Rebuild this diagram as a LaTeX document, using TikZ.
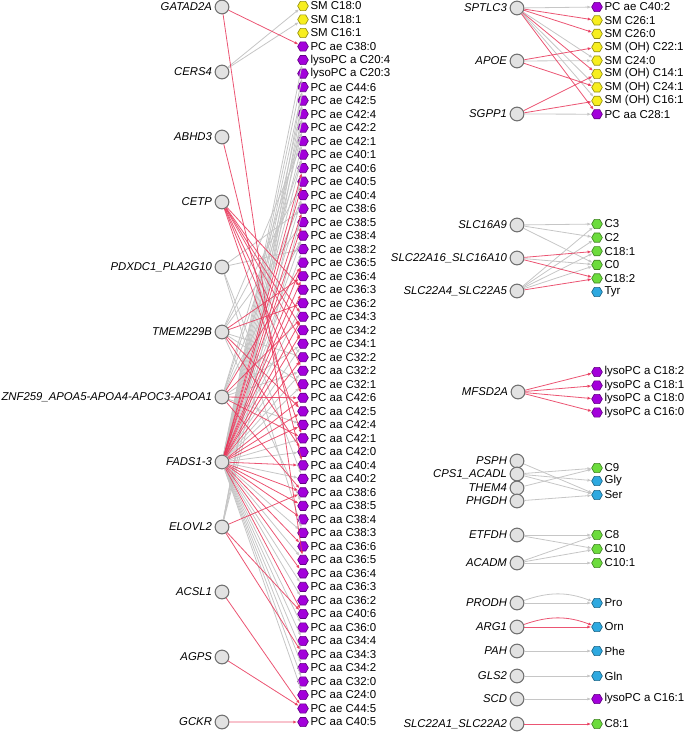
\documentclass[tikz,border=0pt]{standalone}
\usepackage{fontspec}
\setmainfont{Liberation Sans}
\usetikzlibrary{shapes.geometric,arrows.meta}

\definecolor{edgered}{HTML}{E8375A}
\definecolor{edgegray}{HTML}{C6C6C6}
\definecolor{genefill}{HTML}{E2E2E2}
\definecolor{geneline}{HTML}{707070}
\definecolor{metyellow}{HTML}{F7EE1E}
\definecolor{metpurple}{HTML}{A300DB}
\definecolor{metgreen}{HTML}{6CDC3C}
\definecolor{metblue}{HTML}{2EA9E0}

\tikzset{
  gene/.style={circle, draw=geneline, fill=genefill, line width=0.8pt, minimum size=10.3pt, inner sep=0pt},
  glab/.style={font=\fontsize{8.5}{9.5}\selectfont\itshape, inner sep=1.8pt},
  met/.style={regular polygon, regular polygon sides=6, minimum size=8pt, inner sep=0pt, line width=0.5pt, fill=#1, draw=#1!60!black},
  mlab/.style={font=\fontsize{8.6}{9.5}\selectfont, inner sep=1.2pt},
  redge/.style={edgered, opacity=0.85, line width=0.6pt, -{Latex[length=3pt,width=2.4pt]}},
  gedge/.style={edgegray, line width=0.6pt, -{Latex[length=3pt,width=2.4pt]}},
}

\begin{document}
\begin{tikzpicture}[x=0.75pt,y=-0.75pt]
        \useasboundingbox (0,0) rectangle (685,732);

        % Left panel: genes
        \node[gene, label={[glab]left:GATAD2A}] (gatad) at (222,7) {};
        \node[gene, label={[glab]left:CERS4}] (cers) at (222,72) {};
        \node[gene, label={[glab]left:ABHD3}] (abhd) at (222,137) {};
        \node[gene, label={[glab]left:CETP}] (cetp) at (222,202) {};
        \node[gene, label={[glab]left:PDXDC1\_PLA2G10}] (pdxdc) at (222,267) {};
        \node[gene, label={[glab]left:TMEM229B}] (tmem) at (222,332) {};
        \node[gene, label={[glab]left:ZNF259\_APOA5-APOA4-APOC3-APOA1}] (znf) at (222,397) {};
        \node[gene, label={[glab]left:FADS1-3}] (fads) at (222,462) {};
        \node[gene, label={[glab]left:ELOVL2}] (elovl) at (222,527) {};
        \node[gene, label={[glab]left:ACSL1}] (acsl) at (222,592) {};
        \node[gene, label={[glab]left:AGPS}] (agps) at (222,657) {};
        \node[gene, label={[glab]left:GCKR}] (gckr) at (222,722) {};

        % Left panel: metabolites, one every 13.51px
        \foreach \i/\col/\txt in {1/metyellow/SM C18:0, 2/metyellow/SM C18:1, 3/metyellow/SM C16:1,
            4/metpurple/PC ae C38:0, 5/metpurple/lysoPC a C20:4, 6/metpurple/lysoPC a C20:3,
            7/metpurple/PC ae C44:6, 8/metpurple/PC ae C42:5, 9/metpurple/PC ae C42:4,
            10/metpurple/PC ae C42:2, 11/metpurple/PC ae C42:1, 12/metpurple/PC ae C40:1,
            13/metpurple/PC ae C40:6, 14/metpurple/PC ae C40:5, 15/metpurple/PC ae C40:4,
            16/metpurple/PC ae C38:6, 17/metpurple/PC ae C38:5, 18/metpurple/PC ae C38:4,
            19/metpurple/PC ae C38:2, 20/metpurple/PC ae C36:5, 21/metpurple/PC ae C36:4,
            22/metpurple/PC ae C36:3, 23/metpurple/PC ae C36:2, 24/metpurple/PC ae C34:3,
            25/metpurple/PC ae C34:2, 26/metpurple/PC ae C34:1, 27/metpurple/PC ae C32:2,
            28/metpurple/PC aa C32:2, 29/metpurple/PC ae C32:1, 30/metpurple/PC aa C42:6,
            31/metpurple/PC aa C42:5, 32/metpurple/PC aa C42:4, 33/metpurple/PC aa C42:1,
            34/metpurple/PC aa C42:0, 35/metpurple/PC aa C40:4, 36/metpurple/PC aa C40:2,
            37/metpurple/PC aa C38:6, 38/metpurple/PC aa C38:5, 39/metpurple/PC aa C38:4,
            40/metpurple/PC aa C38:3, 41/metpurple/PC aa C36:6, 42/metpurple/PC aa C36:5,
            43/metpurple/PC aa C36:4, 44/metpurple/PC aa C36:3, 45/metpurple/PC aa C36:2,
            46/metpurple/PC aa C40:6, 47/metpurple/PC aa C36:0, 48/metpurple/PC aa C34:4,
            49/metpurple/PC aa C34:3, 50/metpurple/PC aa C34:2, 51/metpurple/PC aa C32:0,
            52/metpurple/PC aa C24:0, 53/metpurple/PC ae C44:5, 54/metpurple/PC aa C40:5}
          \node[met=\col, label={[mlab]right:\txt}] (m\i) at (303,{6+(\i-1)*13.51}) {};

        % Left panel: grey links
        \foreach \t in {1,2} \draw[gedge] (cers) -- (m\t);
        \foreach \t in {16,19,36,40} \draw[gedge] (pdxdc) -- (m\t);
        \foreach \t in {11,14,17,27,29,38} \draw[gedge] (tmem) -- (m\t);
        \foreach \t in {10,12,15,18,26,28,32} \draw[gedge] (znf) -- (m\t);
        \foreach \t in {5,6,7,8,9,10,11,12,15,18,19,23,26,28,29,33,34,36,40,42,44,45,47,48,49,50,51,52}
          \draw[gedge] (fads) -- (m\t);
        \foreach \t in {7,8,9,13,16} \draw[gedge] (elovl) -- (m\t);

        % Left panel: red links
        \foreach \t in {4,42} \draw[redge] (gatad) -- (m\t);
        \draw[redge] (abhd) -- (m35);
        \foreach \t in {22,24,25,26,28,30,33} \draw[redge] (cetp) -- (m\t);
        \foreach \t in {21,23,31,34} \draw[redge] (tmem) -- (m\t);
        \foreach \t in {20,24,30,33,37} \draw[redge] (znf) -- (m\t);
        \foreach \t in {13,14,16,17,20,21,22,24,25,27,30,31,32,35,37,38,39,41,43,46}
          \draw[redge] (fads) -- (m\t);
        \foreach \t in {37,46,49} \draw[redge] (elovl) -- (m\t);
        \draw[redge] (acsl) -- (m53);
        \draw[redge] (agps) -- (m53);
        \draw[redge] (gckr) -- (m54);

        % Right panel: sphingomyelins
        \node[gene, label={[glab]left:SPTLC3}] (sptlc) at (517,8) {};
        \node[gene, label={[glab]left:APOE}] (apoe) at (517,61) {};
        \node[gene, label={[glab]left:SGPP1}] (sgpp) at (517,114) {};
        \foreach \i/\col/\txt in {1/metpurple/PC ae C40:2, 2/metyellow/SM C26:1, 3/metyellow/SM C26:0,
            4/metyellow/SM (OH) C22:1, 5/metyellow/SM C24:0, 6/metyellow/SM (OH) C14:1,
            7/metyellow/SM (OH) C24:1, 8/metyellow/SM (OH) C16:1, 9/metpurple/PC aa C28:1}
          \node[met=\col, label={[mlab]right:\txt}] (sm\i) at (597,{7+(\i-1)*13.4}) {};
        \foreach \t in {1,5,7,8} \draw[gedge] (sptlc) -- (sm\t);
        \draw[gedge] (apoe) -- (sm5);
        \draw[gedge] (sgpp) -- (sm9);
        \foreach \t in {2,3,6,9} \draw[redge] (sptlc) -- (sm\t);
        \foreach \t in {4,7} \draw[redge] (apoe) -- (sm\t);
        \foreach \t in {6,8} \draw[redge] (sgpp) -- (sm\t);

        % Right panel: carnitines
        \node[gene, label={[glab]left:SLC16A9}] (slca) at (517,225) {};
        \node[gene, label={[glab]left:SLC22A16\_SLC16A10}] (slcb) at (517,258) {};
        \node[gene, label={[glab]left:SLC22A4\_SLC22A5}] (slcc) at (517,291) {};
        \foreach \i/\col/\txt in {1/metgreen/C3, 2/metgreen/C2, 3/metgreen/C18:1,
            4/metgreen/C0, 5/metgreen/C18:2, 6/metblue/Tyr}
          \node[met=\col, label={[mlab]right:\txt}] (ca\i) at (597,{224+(\i-1)*13.6}) {};
        \foreach \t in {1,2,4} \draw[gedge] (slca) -- (ca\t);
        \draw[gedge] (slcb) -- (ca4);
        \foreach \t in {1,2,3,4} \draw[gedge] (slcc) -- (ca\t);
        \foreach \t in {3,5} \draw[redge] (slcb) -- (ca\t);
        \draw[redge] (slcc) -- (ca5);

        % Right panel: lysoPCs
        \node[gene, label={[glab]left:MFSD2A}] (mfsd) at (518,392) {};
        \foreach \i/\txt in {1/lysoPC a C18:2, 2/lysoPC a C18:1, 3/lysoPC a C18:0, 4/lysoPC a C16:0}
          \node[met=metpurple, label={[mlab]right:\txt}] (ly\i) at (597,{372+(\i-1)*13.5}) {};
        \foreach \t in {1,2,3,4} \draw[redge] (mfsd) -- (ly\t);

        % Right panel: amino acids
        \node[gene, label={[glab]left:PSPH}] (psph) at (517,461) {};
        \node[gene, label={[glab]left:CPS1\_ACADL}] (cps) at (517,474) {};
        \node[gene, label={[glab]left:THEM4}] (them) at (517,488) {};
        \node[gene, label={[glab]left:PHGDH}] (phgdh) at (517,501) {};
        \node[met=metgreen, label={[mlab]right:C9}] (cnine) at (597,468) {};
        \node[met=metblue, label={[mlab]right:Gly}] (gly) at (597,481) {};
        \node[met=metblue, label={[mlab]right:Ser}] (ser) at (597,495) {};
        \draw[gedge] (psph) -- (ser);
        \draw[gedge] (cps) -- (cnine);
        \draw[gedge] (cps) -- (gly);
        \draw[gedge] (cps) -- (ser);
        \draw[gedge] (them) -- (cnine);
        \draw[gedge] (phgdh) -- (ser);

        % Right panel: acylcarnitines
        \node[gene, label={[glab]left:ETFDH}] (etfdh) at (517,535) {};
        \node[gene, label={[glab]left:ACADM}] (acadm) at (517,563) {};
        \node[met=metgreen, label={[mlab]right:C8}] (ceight) at (597,535) {};
        \node[met=metgreen, label={[mlab]right:C10}] (cten) at (597,549) {};
        \node[met=metgreen, label={[mlab]right:C10:1}] (ctenone) at (597,563) {};
        \draw[gedge] (etfdh) -- (cten);
        \draw[gedge] (etfdh) -- (ceight);
        \foreach \t in {ceight,cten,ctenone} \draw[gedge] (acadm) -- (\t);

        % Right panel: single pairs
        \node[gene, label={[glab]left:PRODH}] (prodh) at (517,603) {};
        \node[gene, label={[glab]left:ARG1}] (arg) at (517,627) {};
        \node[gene, label={[glab]left:PAH}] (pah) at (517,651) {};
        \node[gene, label={[glab]left:GLS2}] (gls) at (517,676) {};
        \node[gene, label={[glab]left:SCD}] (scd) at (517,699) {};
        \node[gene, label={[glab]left:SLC22A1\_SLC22A2}] (slcd) at (517,724) {};
        \node[met=metblue, label={[mlab]right:Pro}] (pro) at (597,603) {};
        \node[met=metblue, label={[mlab]right:Orn}] (orn) at (597,627) {};
        \node[met=metblue, label={[mlab]right:Phe}] (phe) at (597,651) {};
        \node[met=metblue, label={[mlab]right:Gln}] (gln) at (597,676) {};
        \node[met=metpurple, label={[mlab]right:lysoPC a C16:1}] (lysoone) at (597,699) {};
        \node[met=metgreen, label={[mlab]right:C8:1}] (ceightone) at (597,724) {};
        \draw[gedge] (prodh) -- (pro);
        \draw[gedge] (prodh) to[bend left=20] (pro);
        \draw[redge] (arg) -- (orn);
        \draw[redge] (arg) to[bend left=20] (orn);
        \draw[gedge] (pah) -- (phe);
        \draw[gedge] (gls) -- (gln);
        \draw[gedge] (scd) -- (lysoone);
        \draw[redge] (slcd) -- (ceightone);
\end{tikzpicture}
\end{document}
